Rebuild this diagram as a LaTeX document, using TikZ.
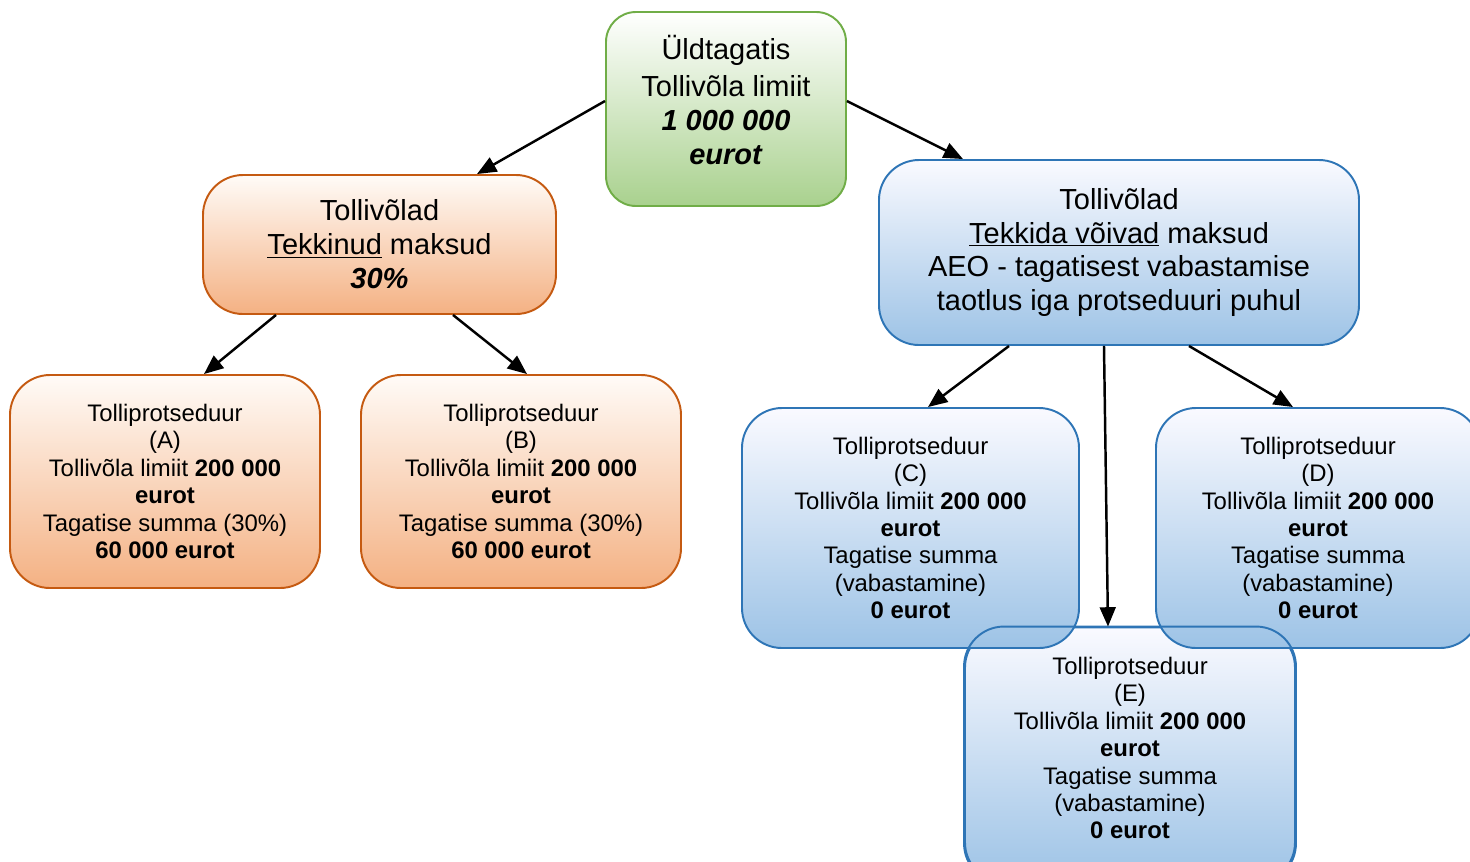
\documentclass[tikz,border=0pt]{standalone}
\usepackage{fontspec}
\setmainfont{Liberation Sans}
\usetikzlibrary{arrows.meta}

\definecolor{grline}{HTML}{70AD47}
\definecolor{grfill}{HTML}{A9D18E}
\definecolor{orline}{HTML}{C55A11}
\definecolor{orfill}{HTML}{F4B183}
\definecolor{blline}{HTML}{2E75B6}
\definecolor{blfill}{HTML}{9DC3E6}

\begin{document}
\begin{tikzpicture}[box/.style = {rectangle, rounded corners=0.8cm, line width=1.1pt, align=center, inner sep=0pt},
  big/.style = {font=\fontsize{16.5}{19.3}\selectfont},
  small/.style = {font=\fontsize{13.6}{15.6}\selectfont},
  greenbox/.style = {box, draw=grline, top color=white, bottom color=grfill, rounded corners=0.6cm},
  orangebox/.style = {box, draw=orline, top color=orange!3, bottom color=orfill},
  bluebox/.style = {box, draw=blline, top color=blue!2, bottom color=blfill},
  arr/.style = {line width=1.4pt, -{Triangle[length=11pt, width=9pt]}}]

\clip (0,0) rectangle (29.4,-17.22);

% upper level
\node[greenbox, big, minimum width=4.8cm, minimum height=3.88cm] (total) at (14.52,-2.18)
  {Üldtagatis\\[0.07cm]Tollivõla limiit\\\textbf{\textit{1 000 000}}\\\textbf{\textit{eurot}}\rule[-0.38cm]{0pt}{0.38cm}};
\node[orangebox, big, minimum width=7.06cm, minimum height=2.78cm] (arisen) at (7.59,-4.89)
  {Tollivõlad\\\underline{Tekkinud} maksud\\\textbf{\textit{30\%}}};
\node[bluebox, big, minimum width=9.6cm, minimum height=3.7cm] (mayarise) at (22.38,-5.05)
  {Tollivõlad\\\underline{Tekkida võivad} maksud\\AEO - tagatisest vabastamise\\taotlus iga protseduuri puhul};

% procedures
\node[orangebox, small, minimum width=6.2cm, minimum height=4.26cm] (procA) at (3.3,-9.63)
  {Tolliprotseduur\\(A)\\Tollivõla limiit \textbf{200 000}\\\textbf{eurot}\\Tagatise summa (30\%)\\\textbf{60 000 eurot}};
\node[orangebox, small, minimum width=6.4cm, minimum height=4.26cm] (procB) at (10.42,-9.63)
  {Tolliprotseduur\\(B)\\Tollivõla limiit \textbf{200 000}\\\textbf{eurot}\\Tagatise summa (30\%)\\\textbf{60 000 eurot}};
\node[bluebox, small, minimum width=6.6cm, minimum height=5.1cm] (procE) at (22.6,-15.1)
  {Tolliprotseduur\\(E)\\Tollivõla limiit \textbf{200 000}\\\textbf{eurot}\\Tagatise summa\\(vabastamine)\\\textbf{0 eurot}\rule[-0.28cm]{0pt}{0.28cm}};
\node[bluebox, small, minimum width=6.74cm, minimum height=4.8cm] (procC) at (18.21,-10.56)
  {Tolliprotseduur\\(C)\\Tollivõla limiit \textbf{200 000}\\\textbf{eurot}\\Tagatise summa\\(vabastamine)\\\textbf{0 eurot}};
\node[bluebox, small, minimum width=6.48cm, minimum height=4.8cm] (procD) at (26.36,-10.56)
  {Tolliprotseduur\\(D)\\Tollivõla limiit \textbf{200 000}\\\textbf{eurot}\\Tagatise summa\\(vabastamine)\\\textbf{0 eurot}};
\draw[blline, line width=1.1pt, rounded corners=0.8cm] (procE.south west) rectangle (procE.north east);

% arrows
\draw[arr] ([yshift=0.16cm]total.west) -- ([xshift=1.95cm]arisen.north);
\draw[arr] ([yshift=0.16cm]total.east) -- ([xshift=-3.12cm]mayarise.north);
\draw[arr] ([xshift=-2.07cm]arisen.south) -- ([xshift=0.78cm]procA.north);
\draw[arr] ([xshift=1.47cm]arisen.south) -- ([xshift=0.12cm]procB.north);
\draw[arr] ([xshift=-2.2cm]mayarise.south) -- ([xshift=0.35cm]procC.north);
\draw[arr] ([xshift=-0.3cm]mayarise.south) -- ([xshift=-0.44cm]procE.north);
\draw[arr] ([xshift=1.4cm]mayarise.south) -- ([xshift=-0.5cm]procD.north);

\end{tikzpicture}
\end{document}
